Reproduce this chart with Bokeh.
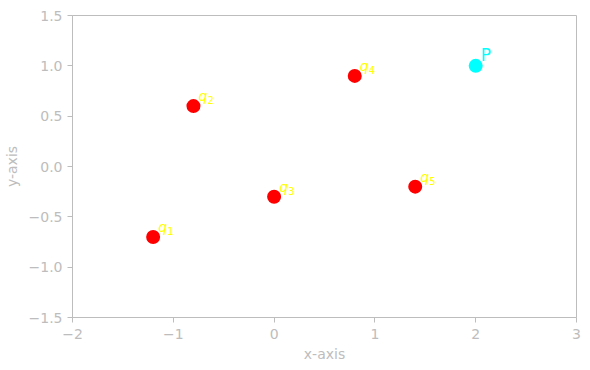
from bokeh.plotting import figure
from bokeh.models import FixedTicker, ColumnDataSource, Range1d
from bokeh.embed import file_html
from bokeh.resources import INLINE
from bokeh.core.properties import value

q_names = ["q", "q", "q", "q", "q"]
q_subs = ["1", "2", "3", "4", "5"]
q_x = [-1.2, -0.8, 0.0, 0.8, 1.4]
q_y = [-0.7, 0.6, -0.3, 0.9, -0.2]
p_label = ["P"]
p_x = [2.0]
p_y = [1.0]

x_ticks = [-2, -1, 0, 1, 2, 3]
x_tick_labels = ["−2", "−1", "0", "1", "2", "3"]
y_ticks = [-1.5, -1.0, -0.5, 0.0, 0.5, 1.0, 1.5]
y_tick_labels = ["−1.5", "−1.0", "−0.5", "0.0", "0.5", "1.0", "1.5"]

GREY = "#bdbdbd"
FONT = "DejaVu Sans"

p = figure(width=584, height=364, output_backend="svg", toolbar_location=None,
           x_range=Range1d(-2, 3), y_range=Range1d(-1.5, 1.5),
           min_border_left=71, min_border_right=8, min_border_top=15, min_border_bottom=45)
p.xgrid.visible = False
p.ygrid.visible = False
p.outline_line_color = GREY
p.outline_line_width = 1
p.background_fill_color = "white"
p.border_fill_color = "white"

p.xaxis.ticker = FixedTicker(ticks=x_ticks)
p.yaxis.ticker = FixedTicker(ticks=y_ticks)
p.xaxis.major_label_overrides = {t: l for t, l in zip(x_ticks, x_tick_labels)}
p.yaxis.major_label_overrides = {t: l for t, l in zip(y_ticks, y_tick_labels)}
p.xaxis.axis_label = "x-axis"
p.yaxis.axis_label = "y-axis"
for ax in (p.xaxis[0], p.yaxis[0]):
    ax.axis_line_color = GREY
    ax.major_tick_line_color = GREY
    ax.minor_tick_line_color = None
    ax.major_tick_out = 5
    ax.major_tick_in = 0
    ax.major_label_text_color = GREY
    ax.major_label_text_font = FONT
    ax.major_label_text_font_size = "14px"
    ax.axis_label_text_color = GREY
    ax.axis_label_text_font = FONT
    ax.axis_label_text_font_size = "14px"
    ax.axis_label_text_font_style = "normal"
p.xaxis.major_label_standoff = 6
p.yaxis.major_label_standoff = 5
p.xaxis.axis_label_standoff = 4
p.yaxis.axis_label_standoff = 6

qs = ColumnDataSource(dict(x=q_x, y=q_y, t=q_names, s=q_subs,
                           tx=[v + 0.05 for v in q_x], ty=[v + 0.05 for v in q_y]))
ps = ColumnDataSource(dict(x=p_x, y=p_y, t=p_label,
                           tx=[v + 0.05 for v in p_x], ty=[v + 0.05 for v in p_y]))

p.scatter("x", "y", source=qs, size=14, color="red", line_color=None)
p.scatter("x", "y", source=ps, size=14, color="cyan", line_color=None)
p.text("tx", "ty", text="t", source=qs, text_color="yellow", text_font=value(FONT),
       text_font_size="14px", text_font_style="italic", y_offset=-5,
       text_baseline="alphabetic", text_align="left")
p.text("tx", "ty", text="s", source=qs, text_color="yellow", text_font=value(FONT),
       text_font_size="10px", x_offset=9, y_offset=-1,
       text_baseline="alphabetic", text_align="left")
p.text("tx", "ty", text="t", source=ps, text_color="cyan", text_font=value(FONT),
       text_font_size="17px", y_offset=-6,
       text_baseline="alphabetic", text_align="left")

open("out.html", "w").write(file_html(p, INLINE))
